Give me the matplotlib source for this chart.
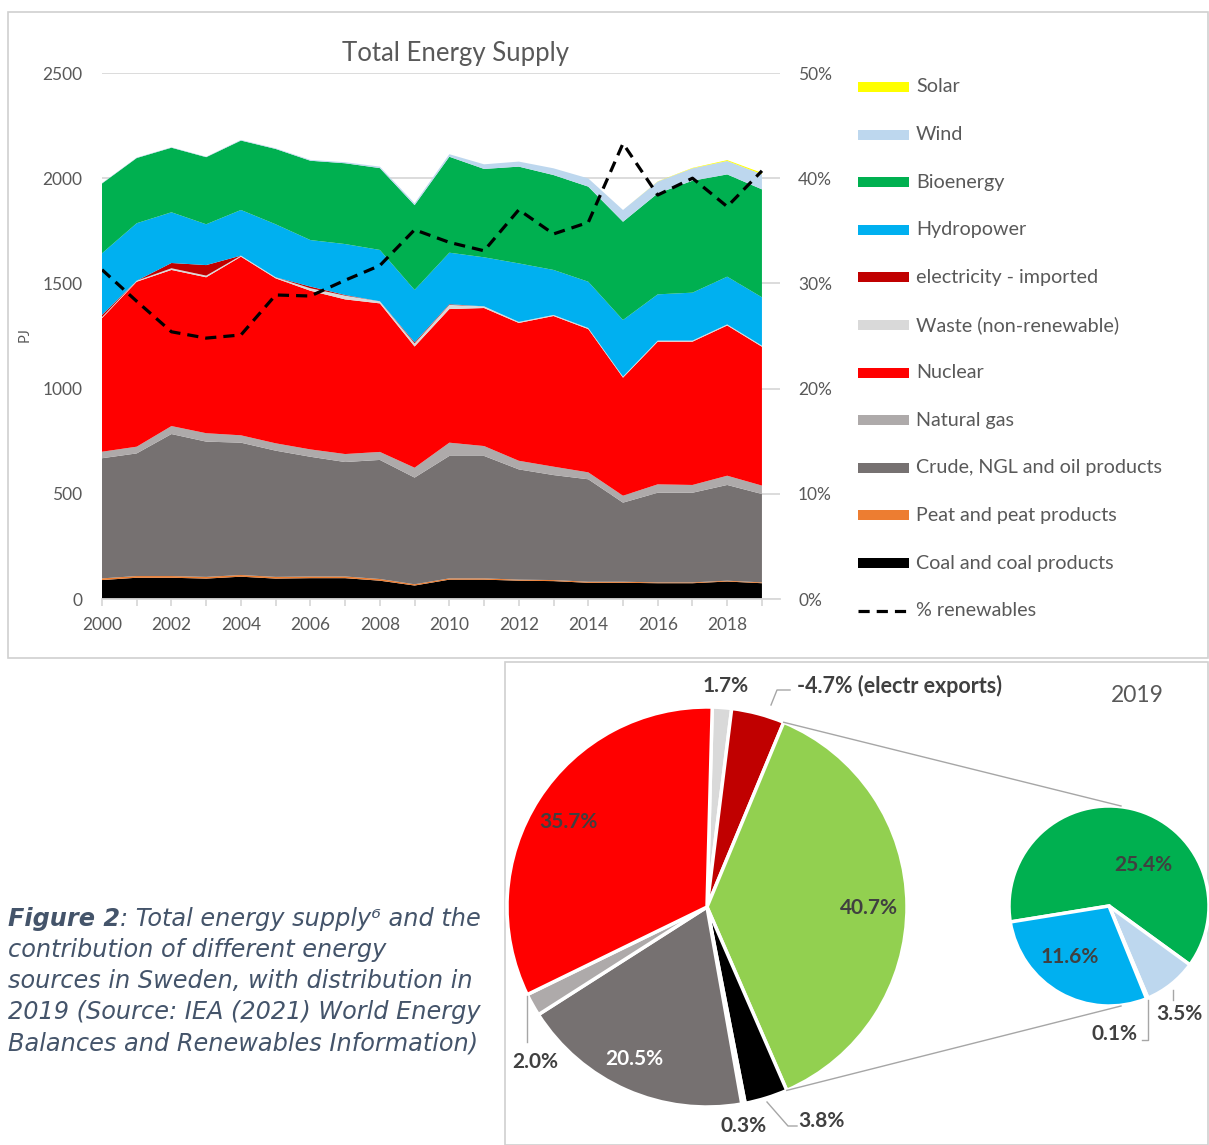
import matplotlib
matplotlib.use('Agg')
import matplotlib.pyplot as plt
import numpy as np
from matplotlib.patches import Rectangle

plt.rcParams['font.family'] = ['Lato', 'DejaVu Sans']

# ---- data (PJ) ----
years = np.arange(2000, 2020)
coal = [90, 101, 101, 97, 106, 97, 99, 99, 87, 64, 92, 92, 87, 85, 77, 77, 75, 75, 83, 75]
peat = [8, 8, 8, 8, 8, 8, 8, 8, 8, 6, 6, 6, 5, 5, 5, 5, 4, 4, 4, 4]
crude = [571, 583, 675, 643, 629, 600, 569, 544, 566, 507, 582, 582, 524, 499, 487, 376, 426, 426, 455, 420]
gas = [31, 32, 38, 40, 35, 35, 35, 38, 38, 47, 63, 47, 41, 40, 33, 33, 40, 37, 44, 40]
nuclear = [635, 784, 742, 741, 849, 784, 754, 735, 706, 576, 635, 656, 655, 716, 681, 561, 678, 681, 714, 660]
waste = [5, 5, 8, 8, 5, 5, 12, 18, 10, 15, 20, 8, 5, 5, 5, 5, 5, 5, 5, 5]
elec_imp = [10, 0, 25, 50, 0, 0, 8, 3, 0, 5, 3, 0, 0, 0, 0, 0, 0, 0, 0, 0]
hydro = [293, 273, 241, 194, 217, 252, 221, 242, 244, 249, 245, 233, 278, 214, 220, 269, 220, 228, 227, 230]
bio = [332, 310, 307, 319, 330, 358, 377, 384, 389, 403, 456, 420, 460, 451, 452, 467, 480, 532, 486, 513]
wind = [2, 2, 2, 2, 3, 3, 4, 5, 7, 9, 12, 22, 24, 32, 39, 56, 56, 59, 64, 72]
solar = [0, 0, 0, 0, 0, 0, 0, 0, 0, 0, 0, 0, 0, 0, 0, 0, 1, 2, 4, 6]
renew_pct = [31.3, 28.3, 25.4, 24.8, 25.1, 28.9, 28.8, 30.3, 31.7, 35.1,
             33.9, 33.1, 37.0, 34.7, 35.8, 43.3, 38.4, 40.0, 37.3, 40.7]

layer_names = ['Coal and coal products', 'Peat and peat products', 'Crude, NGL and oil products',
               'Natural gas', 'Nuclear', 'Waste (non-renewable)', 'electricity - imported',
               'Hydropower', 'Bioenergy', 'Wind', 'Solar']
layer_colors = ['#000000', '#ed7d31', '#767171', '#aeaaaa', '#ff0000', '#d9d9d9', '#c00000',
                '#00b0f0', '#00b050', '#bdd7ee', '#ffff00']

# 2019 shares (%)
pie_labels = ['1.7%', '-4.7% (electr exports)', '40.7%', '3.8%', '0.3%', '20.5%', '2.0%', '35.7%']
pie_vals = [1.7, 4.7, 40.7, 3.8, 0.3, 20.5, 2.0, 35.7]
pie_colors = ['#d9d9d9', '#c00000', '#92d050', '#000000', '#ed7d31', '#767171', '#aeaaaa', '#ff0000']
sub_labels = ['25.4%', '3.5%', '0.1%', '11.6%']
sub_vals = [25.4, 3.5, 0.1, 11.6]
sub_colors = ['#00b050', '#bdd7ee', '#ffff00', '#00b0f0']

W, H = 1209, 1145
grey = '#595959'
fig = plt.figure(figsize=(W / 100, H / 100), dpi=100)

# background axes in pixel units (y up)
bg = fig.add_axes([0, 0, 1, 1])
bg.set_xlim(0, W)
bg.set_ylim(0, H)
bg.set_autoscale_on(False)
bg.axis('off')


def py(y):
    return H - y


bg.add_patch(Rectangle((8, py(658)), W - 9, 646, fill=False, ec='#d0d0d0', lw=1.2))
bg.add_patch(Rectangle((505, py(1145)), W - 506, 483, fill=False, ec='#d0d0d0', lw=1.2))

# ---- stacked area chart ----
ax = fig.add_axes([102 / W, 1 - 599 / H, (780 - 102) / W, (599 - 73) / H])
ax.stackplot(years, coal, peat, crude, gas, nuclear, waste, elec_imp, hydro, bio, wind, solar,
             colors=layer_colors, lw=0, zorder=2)
ax.set_xlim(2000, 2019.52)
ax.set_ylim(0, 2500)
ax.set_yticks(range(0, 2501, 500))
ax.grid(axis='y', color='#d9d9d9', lw=1.3, zorder=0)
ax.set_axisbelow(True)
for s in ['top', 'right', 'left']:
    ax.spines[s].set_visible(False)
ax.spines['bottom'].set_color('#d9d9d9')
ax.spines['bottom'].set_linewidth(1.3)
ax.set_xticks(years)
ax.set_xticklabels([str(y) if y % 2 == 0 else '' for y in years])
ax.tick_params(axis='x', direction='out', length=5, color='#d9d9d9', width=1.3,
               labelcolor=grey, labelsize=12.5, pad=8)
ax.tick_params(axis='y', length=0, labelcolor=grey, labelsize=12.5, pad=14)

ax2 = ax.twinx()
ax2.plot(years, renew_pct, color='black', lw=2.3, dashes=(3.5, 2.2), zorder=5)
ax2.set_ylim(0, 50)
ax2.set_yticks(range(0, 51, 10))
ax2.set_yticklabels(['%d%%' % v for v in range(0, 51, 10)])
ax2.tick_params(axis='y', length=0, labelcolor=grey, labelsize=12.5, pad=13)
for s in ax2.spines.values():
    s.set_visible(False)

bg.text(456, py(53), 'Total Energy Supply', ha='center', va='center', fontsize=18.5, color=grey)
bg.text(25, py(335), 'PJ', ha='center', va='center', rotation=90, fontsize=10.5, color=grey)

# legend
leg_items = list(zip(layer_names, layer_colors))[::-1]
for i, (name, c) in enumerate(leg_items):
    y = py(87 + i * 47.6)
    bg.add_patch(Rectangle((858, y - 5), 51, 10, color=c, lw=0))
    bg.text(916, y, name, va='center', ha='left', fontsize=14.2, color=grey)
y = py(87 + 11 * 47.6)
bg.plot([858, 909], [y, y], color='black', lw=2.3, dashes=(3.5, 2.2))
bg.text(916, y, '% renewables', va='center', ha='left', fontsize=14.2, color=grey)

# ---- pies ----
cx, cy, R = 707, py(907), 200
start = 88.5
bg.pie(pie_vals, colors=pie_colors, startangle=start, counterclock=False, center=(cx, cy),
       radius=R, wedgeprops=dict(edgecolor='white', linewidth=2.5), frame=True)
scx, scy, r = 1109, py(906), 100
bg.pie(sub_vals, colors=sub_colors, startangle=189.2, counterclock=False, center=(scx, scy),
       radius=r, wedgeprops=dict(edgecolor='white', linewidth=2.5), frame=True)

# connector lines from the renewables wedge to the small pie
tot = sum(pie_vals)
a1 = np.deg2rad(90 - start) + np.deg2rad(sum(pie_vals[:2]) / tot * 360)
a2 = np.deg2rad(90 - start) + np.deg2rad(sum(pie_vals[:3]) / tot * 360)
bg.plot([cx + R * np.sin(a1), scx + 12], [cy + R * np.cos(a1), scy + r], color='#a6a6a6', lw=1)
bg.plot([cx + R * np.sin(a2), scx + 12], [cy + R * np.cos(a2), scy - r], color='#a6a6a6', lw=1)

lab_col = '#404040'
pos = [(726, 686), (899, 686), (869, 908), (821, 1121), (744, 1126), (634, 1059), (535, 1062), (568, 822)]
for t, (x, y) in zip(pie_labels, pos):
    c = 'white' if t == '20.5%' else lab_col
    if t.startswith('-'):
        bg.text(797, py(y), t, ha='left', va='center', fontsize=15.5, fontweight='bold', color=c)
    else:
        bg.text(x, py(y), t, ha='center', va='center', fontsize=15, fontweight='bold', color=c)
spos = [(1143, 865), (1179, 1014), (1114, 1034), (1070, 957)]
for t, (x, y) in zip(sub_labels, spos):
    bg.text(x, py(y), t, ha='center', va='center', fontsize=15, fontweight='bold', color=lab_col)

# leader lines
lc = '#a6a6a6'
bg.plot([771, 777, 790], [py(705), py(690), py(690)], color=lc, lw=1)
bg.plot([527, 527], [py(996), py(1042)], color=lc, lw=1)
bg.plot([767, 788, 797], [py(1102), py(1126), py(1126)], color=lc, lw=1)
bg.plot([1148, 1148, 1142], [py(1000), py(1040), py(1040)], color=lc, lw=1)
bg.plot([1173, 1173], [py(990), py(1000)], color=lc, lw=1)

bg.text(1137, py(696), '2019', ha='center', va='center', fontsize=16.5, color=grey)

# ---- caption ----
cap_col = '#44546a'
cap = ['contribution of different energy',
       'sources in Sweden, with distribution in',
       '2019 (Source: IEA (2021) World Energy',
       'Balances and Renewables Information)']
cfont = dict(family='DejaVu Sans', style='italic', fontsize=17.3, color=cap_col)
t0 = bg.text(8, py(919), 'Figure 2', va='center', ha='left', fontweight='bold', **cfont)
fig.canvas.draw()
bb = t0.get_window_extent()
bg.text(bb.x1, py(919), ': Total energy supply\u2076 and the', va='center', ha='left', **cfont)
for i, line in enumerate(cap):
    bg.text(8, py(950 + 31 * i), line, va='center', ha='left', **cfont)

bg.set_xlim(0, W)
bg.set_ylim(0, H)
fig.savefig('out.png', dpi=100)
